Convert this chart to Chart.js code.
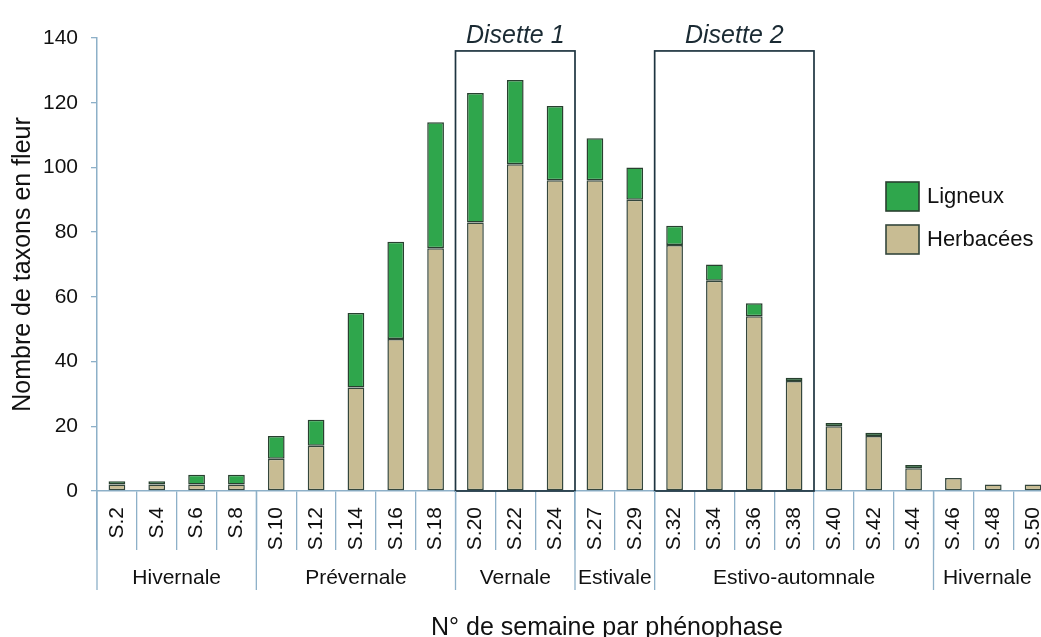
<!DOCTYPE html>
<html lang="fr">
<head>
<meta charset="utf-8">
<title>Nombre de taxons en fleur par phénophase</title>
<script src="https://cdn.jsdelivr.net/npm/chart.js@4.4.1/dist/chart.umd.min.js"></script>
<style>
  html, body { margin: 0; padding: 0; background: #fff; overflow: hidden; }
  #wrap { position: relative; width: 1056px; height: 637px; }
</style>
</head>
<body>
<div id="wrap"><canvas id="taxonsChart"></canvas></div>
<script>
// Données
const semaines = ['S.2', 'S.4', 'S.6', 'S.8', 'S.10', 'S.12', 'S.14', 'S.16', 'S.18', 'S.20', 'S.22', 'S.24',
                  'S.27', 'S.29', 'S.32', 'S.34', 'S.36', 'S.38', 'S.40', 'S.42', 'S.44', 'S.46', 'S.48', 'S.50'];
const herbacees = [2, 2, 2, 2, 10, 14, 32, 47, 75, 83, 101, 96, 96, 90, 76, 65, 54, 34, 20, 17, 7, 4, 2, 2];
const ligneux   = [1, 1, 3, 3, 7, 8, 23, 30, 39, 40, 26, 23, 13, 10, 6, 5, 4, 1, 1, 1, 1, 0, 0, 0];

// Phénophases (nombre de semaines dans chacune)
const phases = ['Hivernale', 'Prévernale', 'Vernale', 'Estivale', 'Estivo-automnale', 'Hivernale'];
const phaseTailles = [4, 5, 3, 2, 7, 3];

// Périodes de disette : index de la première et de la dernière semaine
const disetteNoms = ['Disette 1', 'Disette 2'];
const disettePeriodes = [[9, 11], [14, 17]];
const disetteHaut = 136;

const yTicks = [0, 20, 40, 60, 80, 100, 120, 140];

const police = '"Liberation Sans", Arial, Helvetica, sans-serif';
const bleuAxe = '#8db0c8';
const texte = '#111111';

Chart.defaults.font.family = police;
Chart.defaults.color = texte;

const decorPlugin = {
    id: 'decor',
    afterDatasetsDraw(chart) {
        const { ctx, scales: { x, y } } = chart;
        ctx.save();
        ctx.strokeStyle = '#1e3440';
        ctx.lineWidth = 1.7;
        ctx.font = 'italic 25px ' + police;
        ctx.fillStyle = '#1a2a33';
        ctx.textAlign = 'center';
        ctx.textBaseline = 'alphabetic';
        disettePeriodes.forEach((p, i) => {
            const left = x.getPixelForValue(p[0] - 0.5);
            const right = x.getPixelForValue(p[1] + 0.5);
            const top = y.getPixelForValue(disetteHaut);
            const bottom = y.getPixelForValue(0);
            ctx.strokeRect(left, top, right - left, bottom - top);
            ctx.fillText(disetteNoms[i], (left + right) / 2, top - 8);
        });
        ctx.restore();
    },
    afterDraw(chart) {
        const { ctx, scales: { x }, chartArea } = chart;
        const visible = window.innerWidth;
        ctx.save();

        // séparateurs et noms des phénophases
        ctx.strokeStyle = bleuAxe;
        ctx.lineWidth = 1.3;
        ctx.font = '21px ' + police;
        ctx.fillStyle = texte;
        ctx.textAlign = 'center';
        ctx.textBaseline = 'middle';
        let debut = 0;
        phaseTailles.forEach((n, i) => {
            const left = x.getPixelForValue(debut - 0.5);
            const right = x.getPixelForValue(debut + n - 0.5);
            ctx.beginPath();
            ctx.moveTo(left, chartArea.bottom);
            ctx.lineTo(left, chartArea.bottom + 99);
            ctx.stroke();
            const cx = (left + Math.min(right, visible)) / 2;
            ctx.fillText(phases[i], cx, chartArea.bottom + 87);
            debut += n;
        });

        // titre de l'axe des abscisses
        ctx.font = '25px ' + police;
        ctx.textBaseline = 'alphabetic';
        ctx.fillText('N° de semaine par phénophase', chartArea.left + 510, chart.height - 2);

        // légende
        const items = chart.data.datasets.slice().reverse();
        const lx = chartArea.left + 789;
        let ly = chartArea.top + 144;
        ctx.font = '22px ' + police;
        ctx.textAlign = 'left';
        ctx.textBaseline = 'middle';
        items.forEach(ds => {
            ctx.fillStyle = ds.backgroundColor;
            ctx.fillRect(lx, ly, 33, 29);
            ctx.strokeStyle = ds.borderColor;
            ctx.lineWidth = 1.6;
            ctx.strokeRect(lx, ly, 33, 29);
            ctx.fillStyle = texte;
            ctx.fillText(ds.label, lx + 41, ly + 15);
            ly += 43;
        });
        ctx.restore();
    }
};

new Chart(document.getElementById('taxonsChart'), {
    type: 'bar',
    data: {
        labels: semaines,
        datasets: [{
            label: 'Herbacées',
            data: herbacees,
            backgroundColor: '#c8bc93',
            borderColor: '#34463c',
            borderWidth: 1.5,
            borderSkipped: false,
            barPercentage: 0.42,
            categoryPercentage: 1
        }, {
            label: 'Ligneux',
            data: ligneux,
            backgroundColor: '#2fa64c',
            borderColor: '#28402f',
            borderWidth: 1.5,
            borderSkipped: false,
            barPercentage: 0.42,
            categoryPercentage: 1
        }]
    },
    options: {
        responsive: true,
        maintainAspectRatio: false,
        animation: false,
        layout: { padding: { top: 38, right: 3, bottom: 0, left: 0 } },
        plugins: {
            legend: { display: false },
            tooltip: { enabled: false }
        },
        scales: {
            x: {
                stacked: true,
                offset: true,
                grid: {
                    offset: true,
                    drawOnChartArea: false,
                    drawTicks: true,
                    tickLength: 59,
                    color: bleuAxe,
                    lineWidth: 1.3
                },
                border: { color: bleuAxe, width: 1.5 },
                ticks: {
                    autoSkip: false,
                    minRotation: 90,
                    maxRotation: 90,
                    padding: -43,
                    font: { size: 21 },
                    color: texte
                },
                afterFit(scale) {
                    scale.height = 146;
                    scale.paddingLeft = 0;
                    scale.paddingRight = 0;
                }
            },
            y: {
                stacked: true,
                min: 0,
                max: 140,
                afterBuildTicks(scale) {
                    scale.ticks = yTicks.map(v => ({ value: v }));
                },
                grid: {
                    drawOnChartArea: false,
                    drawTicks: true,
                    tickLength: 6,
                    color: bleuAxe,
                    lineWidth: 1.3
                },
                border: { color: bleuAxe, width: 1.5 },
                ticks: {
                    padding: 13,
                    font: { size: 21 },
                    color: texte
                },
                title: {
                    display: true,
                    text: 'Nombre de taxons en fleur',
                    font: { size: 25 },
                    color: texte,
                    padding: { top: 8, bottom: 0 }
                },
                afterFit(scale) {
                    scale.width = 97;
                }
            }
        }
    },
    plugins: [decorPlugin]
});
</script>
</body>
</html>
